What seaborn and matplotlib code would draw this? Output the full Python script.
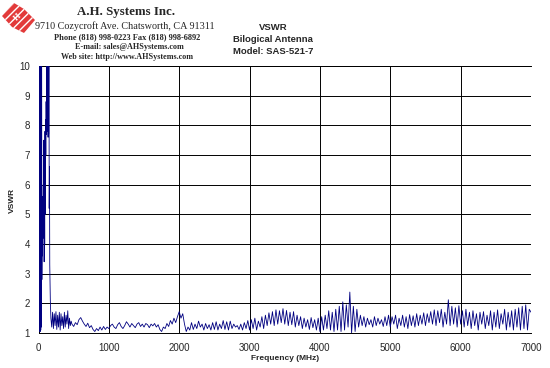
import numpy as np
import pandas as pd
import matplotlib
matplotlib.use("Agg")
import matplotlib.pyplot as plt
import seaborn as sns
from matplotlib.patches import Polygon
from matplotlib.ticker import MultipleLocator

# ---------------- data ----------------
title_lines = ["VSWR", "Bilogical Antenna", "Model: SAS-521-7"]
x_label = "Frequency (MHz)"
y_label = "VSWR"
x_ticks = [0, 1000, 2000, 3000, 4000, 5000, 6000, 7000]
y_ticks = [1, 2, 3, 4, 5, 6, 7, 8, 9, 10]

# sweep blocks: start frequency (MHz), step (MHz), VSWR values
start_0, step_0 = 0, 4
vswr_0 = [1.0, 14, 1.05, 14, 1.05, 14, 1.05, 14, 1.1, 14,
          1.2, 12, 2.8, 4.2, 3.6, 5.6, 4.9, 6.0, 4.2, 7.5,
          3.4, 6.5, 4.0, 7.8, 5.0, 8.2, 7.0, 8.8, 7.7, 14,
          7.8, 14, 8.0, 14, 7.6, 14, 7.7, 14, 5.2, 6.6,
          3.3, 2.6, 2.1, 1.8]

start_1, step_1 = 176, 12
vswr_1 = [1.5, 1.2, 1.7, 1.15, 1.65, 1.25, 1.72, 1.12, 1.6, 1.2,
          1.7, 1.1, 1.65, 1.25, 1.55, 1.15, 1.7, 1.2, 1.6, 1.3,
          1.75, 1.15, 1.5, 1.25, 1.4]

start_2, step_2 = 475, 25
vswr_2 = [1.3, 1.22, 1.35, 1.28, 1.45, 1.52, 1.4, 1.3, 1.22, 1.33,
          1.18, 1.25, 1.12, 1.05, 1.15, 1.08, 1.2, 1.1, 1.22, 1.12, 1.2]

start_3, step_3 = 1000, 25
vswr_3 = [1.15, 1.25, 1.3, 1.2, 1.15, 1.28, 1.35, 1.22, 1.15, 1.25,
          1.38, 1.3, 1.2, 1.32, 1.25, 1.18, 1.3, 1.35, 1.22, 1.3,
          1.2, 1.32, 1.28, 1.18, 1.3, 1.24, 1.32, 1.2, 1.28, 1.12,
          1.05, 1.2, 1.15, 1.32, 1.22, 1.42, 1.3, 1.5, 1.35, 1.55]

start_4, step_4 = 2000, 25
vswr_4 = [1.72, 1.5, 1.65, 1.3, 1.05, 1.2, 1.1, 1.35, 1.12, 1.3,
          1.15, 1.4, 1.2, 1.3, 1.1, 1.32, 1.15, 1.28, 1.1, 1.35,
          1.12, 1.38, 1.1, 1.3, 1.15, 1.42, 1.12, 1.38, 1.1, 1.4,
          1.15, 1.3, 1.2, 1.25, 1.12, 1.3, 1.1, 1.35, 1.15, 1.42]

start_5, step_5 = 3000, 25
vswr_5 = [1.1, 1.45, 1.15, 1.5, 1.1, 1.4, 1.2, 1.55, 1.15, 1.6,
          1.25, 1.68, 1.3, 1.72, 1.25, 1.78, 1.3, 1.75, 1.35, 1.82,
          1.3, 1.76, 1.25, 1.7, 1.28, 1.72, 1.2, 1.6, 1.25, 1.55,
          1.15, 1.5, 1.2, 1.45, 1.12, 1.52, 1.18, 1.45, 1.1, 1.5]

start_6, step_6 = 4000, 25
vswr_6 = [1.05, 1.55, 1.1, 1.6, 1.15, 1.75, 1.1, 1.7, 1.05, 1.8,
          1.1, 1.9, 1.05, 2.05, 1.1, 1.95, 1.2, 2.38, 1.0, 1.9,
          1.05, 1.8, 1.2, 1.6, 1.25, 1.55, 1.2, 1.5, 1.28, 1.45,
          1.2, 1.55, 1.25, 1.5, 1.3, 1.45, 1.22, 1.55, 1.25, 1.6]

start_7, step_7 = 5000, 25
vswr_7 = [1.2, 1.55, 1.3, 1.6, 1.15, 1.5, 1.25, 1.6, 1.2, 1.55,
          1.15, 1.62, 1.25, 1.58, 1.2, 1.65, 1.25, 1.6, 1.3, 1.68,
          1.25, 1.65, 1.35, 1.72, 1.3, 1.78, 1.25, 1.75, 1.35, 1.8,
          1.2, 1.7, 1.3, 2.12, 1.25, 1.9, 1.3, 1.85, 1.2, 1.92]

start_8, step_8 = 6000, 25
vswr_8 = [1.3, 1.75, 1.2, 1.8, 1.25, 1.7, 1.15, 1.75, 1.25, 1.65,
          1.1, 1.7, 1.3, 1.72, 1.15, 1.6, 1.25, 1.75, 1.1, 1.7,
          1.2, 1.78, 1.15, 1.65, 1.3, 1.8, 1.1, 1.7, 1.2, 1.75,
          1.1, 1.8, 1.2, 1.85, 1.1, 1.9, 1.15, 1.95, 1.1, 1.8, 1.7]

blocks = [(start_0, step_0, vswr_0), (start_1, step_1, vswr_1),
          (start_2, step_2, vswr_2), (start_3, step_3, vswr_3),
          (start_4, step_4, vswr_4), (start_5, step_5, vswr_5),
          (start_6, step_6, vswr_6), (start_7, step_7, vswr_7),
          (start_8, step_8, vswr_8)]

freq = np.concatenate([s + st * np.arange(len(v)) for s, st, v in blocks])
vswr = np.concatenate([np.array(v, dtype=float) for _, _, v in blocks])
df = pd.DataFrame({"freq": freq, "vswr": vswr})

# ---------------- figure ----------------
sns.set_style("white")
plt.rcParams["font.family"] = ["Liberation Sans", "DejaVu Sans"]

W, H = 550, 368
fig = plt.figure(figsize=(W / 100, H / 100), dpi=100)
fig.patch.set_facecolor("white")


def px(x, y):
    return x / W, 1 - y / H


left, right, top, bottom = 38.5, 531, 66, 333
ax = fig.add_axes([left / W, 1 - bottom / H, (right - left) / W, (bottom - top) / H])
ax.set_facecolor("white")

sns.lineplot(data=df, x="freq", y="vswr", estimator=None, sort=False,
             color="#000080", linewidth=0.6, ax=ax, zorder=3)

ax.set_xlim(0, 7000)
ax.set_ylim(1, 10)
ax.set_xticks(x_ticks)
ax.set_yticks(y_ticks)
ax.xaxis.set_minor_locator(MultipleLocator(200))
ax.yaxis.set_minor_locator(MultipleLocator(0.2))
ax.tick_params(axis="x", which="major", direction="out", length=4, width=0.7,
               labelsize=7, pad=3, color="black")
ax.tick_params(axis="x", which="minor", direction="out", length=2.5, width=0.5, color="black")
ax.tick_params(axis="y", which="major", direction="out", length=4, width=0.7,
               labelsize=7, pad=2, color="black")
ax.tick_params(axis="y", which="minor", direction="out", length=2.5, width=0.5, color="black")
ax.grid(True, which="major", color="black", linewidth=0.7)
for s in ["left", "bottom", "top"]:
    ax.spines[s].set_visible(True)
    ax.spines[s].set_color("black")
    ax.spines[s].set_linewidth(0.7)
ax.spines["right"].set_visible(False)
ax.set_xlabel("")
ax.set_ylabel("")

fig.text(*px(285, 358), x_label, ha="center", va="center", fontsize=6, fontweight="bold")
fig.text(*px(12, 200), y_label, ha="center", va="center", fontsize=6,
         fontweight="bold", rotation=90)

for i, t in enumerate(title_lines):
    fig.text(*px(273, 27 + 12 * i), t, ha="center", va="center", fontsize=6.8,
             fontweight="bold")

# header block
serif = ["Liberation Serif", "DejaVu Serif"]
fig.text(*px(126, 12), "A.H. Systems Inc.", ha="center", va="center", fontsize=9.3,
         family=serif, fontweight="bold")
fig.text(*px(125, 26), "9710 Cozycroft Ave. Chatsworth, CA 91311", ha="center",
         va="center", fontsize=7.3, family=serif)
fig.text(*px(127, 37), "Phone (818) 998-0223 Fax (818) 998-6892", ha="center",
         va="center", fontsize=6.0, family=serif, fontweight="bold")
fig.text(*px(129, 47), "E-mail: sales@AHSystems.com", ha="center", va="center",
         fontsize=5.9, family=serif, fontweight="bold")
fig.text(*px(127, 57), "Web site: http://www.AHSystems.com", ha="center",
         va="center", fontsize=5.9, family=serif, fontweight="bold")

# logo
logo_px = [(2, 16), (14, 3), (24, 9), (35, 20), (24, 33), (12, 27)]
logo = Polygon([px(x, y) for x, y in logo_px], closed=True, transform=fig.transFigure,
               facecolor="#e23a3a", edgecolor="white", hatch="////", linewidth=0)
fig.patches.append(logo)
fig.text(*px(18, 17), "H", ha="center", va="center", fontsize=6, color="white",
         fontweight="bold", rotation=45, family=serif)

fig.savefig("out.png", dpi=100, facecolor="white")
